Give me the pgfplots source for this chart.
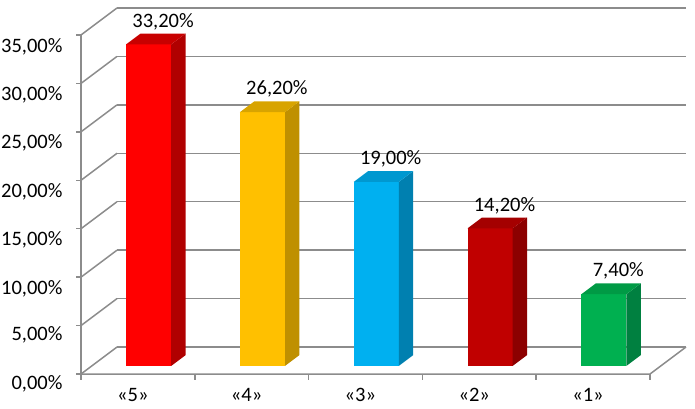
\documentclass[border=0pt]{standalone}
\usepackage{fontspec}
\setmainfont{Carlito}
\usepackage{pgfplots}
\pgfplotsset{compat=1.18}
\definecolor{gridc}{HTML}{8C8C8C}
\definecolor{rF}{HTML}{FF0000}\definecolor{rS}{HTML}{B00000}\definecolor{rT}{HTML}{C80000}
\definecolor{oF}{HTML}{FFC000}\definecolor{oS}{HTML}{BF9000}\definecolor{oT}{HTML}{D8A400}
\definecolor{bF}{HTML}{00B0F0}\definecolor{bS}{HTML}{0080B0}\definecolor{bT}{HTML}{0098D0}
\definecolor{dF}{HTML}{C00000}\definecolor{dS}{HTML}{8C0000}\definecolor{dT}{HTML}{A40000}
\definecolor{gF}{HTML}{00B050}\definecolor{gS}{HTML}{008040}\definecolor{gT}{HTML}{009A45}

% one 3d column: centre, value, front, side, top colour
\newcommand\cube[5]{%
  \pgfmathsetmacro\xl{#1-0.198}%
  \pgfmathsetmacro\xr{#1+0.198}%
  \addplot3[fill=#3,draw=none] coordinates {(\xl,0.3,0) (\xr,0.3,0) (\xr,0.3,#2) (\xl,0.3,#2)};
  \addplot3[fill=#4,draw=none] coordinates {(\xr,0.3,0) (\xr,0.7,0) (\xr,0.7,#2) (\xr,0.3,#2)};
  \addplot3[fill=#5,draw=none] coordinates {(\xl,0.3,#2) (\xr,0.3,#2) (\xr,0.7,#2) (\xl,0.7,#2)};
}

\begin{document}
\begin{tikzpicture}
\begin{axis}[
  x={(113.8pt,0pt)},y={(36pt,27pt)},z={(0pt,9.686pt)},
  xmin=0,xmax=5,ymin=0,ymax=1,zmin=0,zmax=35,
  at={(81pt,34pt)},anchor=origin,
  font=\fontsize{20.5}{24}\selectfont,
  /pgf/number format/assume math mode=true,
  xtick={0.5,1.5,...,4.5},
  xticklabels={«5»,«4»,«3»,«2»,«1»},
  xticklabel style={yshift=-11pt},
  ytick=\empty,
  ztick={0,5,...,35},
  zticklabel={\pgfmathprintnumber[fixed,fixed zerofill,precision=2,use comma]{\tick}\%},
  zticklabel style={xshift=-15pt},
  zmajorgrids,
  grid style={gridc,line width=1.5pt},
  axis line style={draw=none},
  major tick length=0pt,
  clip=false,
]
\cube{0.5}{33.2}{rF}{rS}{rT}
\cube{1.5}{26.2}{oF}{oS}{oT}
\cube{2.5}{19.0}{bF}{bS}{bT}
\cube{3.5}{14.2}{dF}{dS}{dT}
\cube{4.5}{7.4}{gF}{gS}{gT}
\addplot3[draw=none,mark=none,point meta=z,
  nodes near coords={\pgfmathprintnumber[fixed,fixed zerofill,precision=2,use comma]{\pgfplotspointmeta}\%},
  every node near coord/.append style={anchor=base,yshift=6.5pt}]
  coordinates {(0.5,0.7,33.2) (1.5,0.7,26.2) (2.5,0.7,19.0) (3.5,0.7,14.2) (4.5,0.7,7.4)};
\draw[gridc,line width=1.5pt] (axis cs:0,0,0) -- (axis cs:0,0,35);
\draw[gridc,line width=1.5pt] (axis cs:0,0,0) -- (axis cs:5,0,0) -- (axis cs:5,1,0);
\pgfplotsinvokeforeach{0,...,5}{
  \draw[gridc,line width=1.5pt] (axis cs:#1,0,0) -- ++(0pt,-6pt);
}
\pgfplotsinvokeforeach{0,5,...,35}{
  \draw[gridc,line width=1.5pt] (axis cs:0,0,#1) -- ++(-5pt,0pt);
}
\coordinate (O) at (axis cs:0,0,0);
\end{axis}
\pgfresetboundingbox
\path (O) ++(-81pt,-34pt) rectangle ++(695pt,408pt);
\end{tikzpicture}
\end{document}
